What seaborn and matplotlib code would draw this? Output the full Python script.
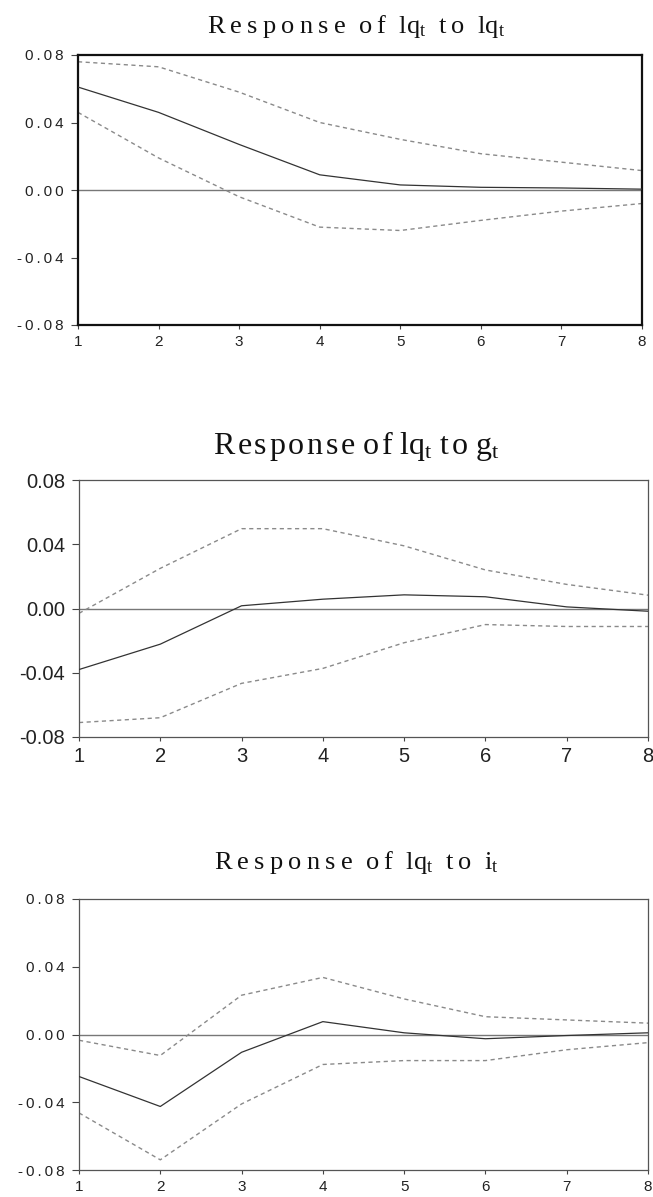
import numpy as np
import pandas as pd
import matplotlib
matplotlib.use("Agg")
import matplotlib.pyplot as plt
import seaborn as sns

sns.set_style("white")
plt.rcParams['font.family'] = ['Liberation Sans', 'DejaVu Sans']
plt.rcParams['mathtext.fontset'] = 'custom'
plt.rcParams['mathtext.rm'] = 'Liberation Serif'
plt.rcParams['mathtext.it'] = 'Liberation Serif'

# periods after the shock
steps = [1, 2, 3, 4, 5, 6, 7, 8]

# response of lq to lq
lq_lq = [0.061, 0.046, 0.027, 0.009, 0.003, 0.0016, 0.0012, 0.0005]
lq_lq_hi = [0.076, 0.073, 0.058, 0.040, 0.030, 0.0215, 0.0165, 0.0115]
lq_lq_lo = [0.046, 0.019, -0.004, -0.022, -0.024, -0.018, -0.0125, -0.008]

# response of lq to g
lq_g = [-0.038, -0.0222, 0.0017, 0.0058, 0.0085, 0.0073, 0.001, -0.0017]
lq_g_hi = [-0.003, 0.025, 0.0497, 0.0497, 0.039, 0.024, 0.015, 0.0083]
lq_g_lo = [-0.071, -0.068, -0.0466, -0.0373, -0.0213, -0.010, -0.0112, -0.0112]

# response of lq to i
lq_i = [-0.0248, -0.0425, -0.0105, 0.0076, 0.001, -0.0025, -0.0006, 0.001]
lq_i_hi = [-0.0034, -0.0124, 0.0232, 0.0337, 0.021, 0.0105, 0.0086, 0.0067]
lq_i_lo = [-0.0463, -0.074, -0.041, -0.0177, -0.0154, -0.0154, -0.009, -0.0048]

yticks = [-0.08, -0.04, 0.0, 0.04, 0.08]

W, H = 653, 1197
fig = plt.figure(figsize=(W / 100, H / 100), dpi=100)


def px_axes(left, top, right, bottom):
    return fig.add_axes([left / W, 1 - bottom / H, (right - left) / W, (bottom - top) / H])


def spaced(s, sep="\u2009"):
    return sep.join(s)


panels = [
    # box, shock name, title y, series, spine width/colour, tick size, spaced ticks
    ((78, 55, 642, 325), "lq", 27, (lq_lq, lq_lq_hi, lq_lq_lo), 1.6, "#111111", 11, True),
    ((79, 480, 648, 737), "g", 446, (lq_g, lq_g_hi, lq_g_lo), 0.9, "#555555", 14.5, False),
    ((79, 899, 648, 1170), "i", 862, (lq_i, lq_i_hi, lq_i_lo), 0.9, "#555555", 11, True),
]

for box, shock, ty, (mid, hi, lo), sw, sc, tsize, spc in panels:
    ax = px_axes(*box)
    df = pd.DataFrame({"step": steps, "resp": mid, "hi": hi, "lo": lo})
    ax.axhline(0, color="#777777", lw=1.0, zorder=1)
    sns.lineplot(data=df, x="step", y="hi", ax=ax, color="#8a8a8a", lw=1.0, zorder=2)
    sns.lineplot(data=df, x="step", y="lo", ax=ax, color="#8a8a8a", lw=1.0, zorder=2)
    for ln in ax.lines[1:]:
        ln.set_linestyle((0, (3, 2.5)))
    sns.lineplot(data=df, x="step", y="resp", ax=ax, color="#333333", lw=0.9, zorder=3)

    ax.set_xlim(1, 8)
    ax.set_ylim(-0.08, 0.08)
    ax.set_xticks(steps)
    ax.set_yticks(yticks)
    if spc:
        ax.set_yticklabels([spaced(f"{v:.2f}") for v in yticks])
    else:
        ax.set_yticklabels([f"{v:.2f}" for v in yticks])
    ax.set_xticklabels([str(s) for s in steps])
    ax.set_xlabel("")
    ax.set_ylabel("")
    ax.tick_params(axis="both", direction="out", length=5, width=0.8, color="#444444",
                   labelsize=tsize, labelcolor="#222222", left=True, bottom=True, pad=5)
    ax.tick_params(axis="x", length=3, pad=4)
    for sp in ax.spines.values():
        sp.set_linewidth(sw)
        sp.set_color(sc)

    if spc:
        title = (spaced("Response") + "  " + spaced("of") + "  lq$_{\\mathrm{t}}$  "
                 + spaced("to") + "  " + shock + "$_{\\mathrm{t}}$")
        fs = 19
    else:
        title = ("\u200a".join("Response") + " " + "\u200a".join("of") + " lq$_{\\mathrm{t}}$ "
                 + "\u200a".join("to") + " " + shock + "$_{\\mathrm{t}}$")
        fs = 23
    fig.text(356 / W, 1 - ty / H, title, ha="center", va="center", fontsize=fs,
             family=["Liberation Serif", "DejaVu Serif"], color="#111111")

fig.savefig("out.png", dpi=100)
